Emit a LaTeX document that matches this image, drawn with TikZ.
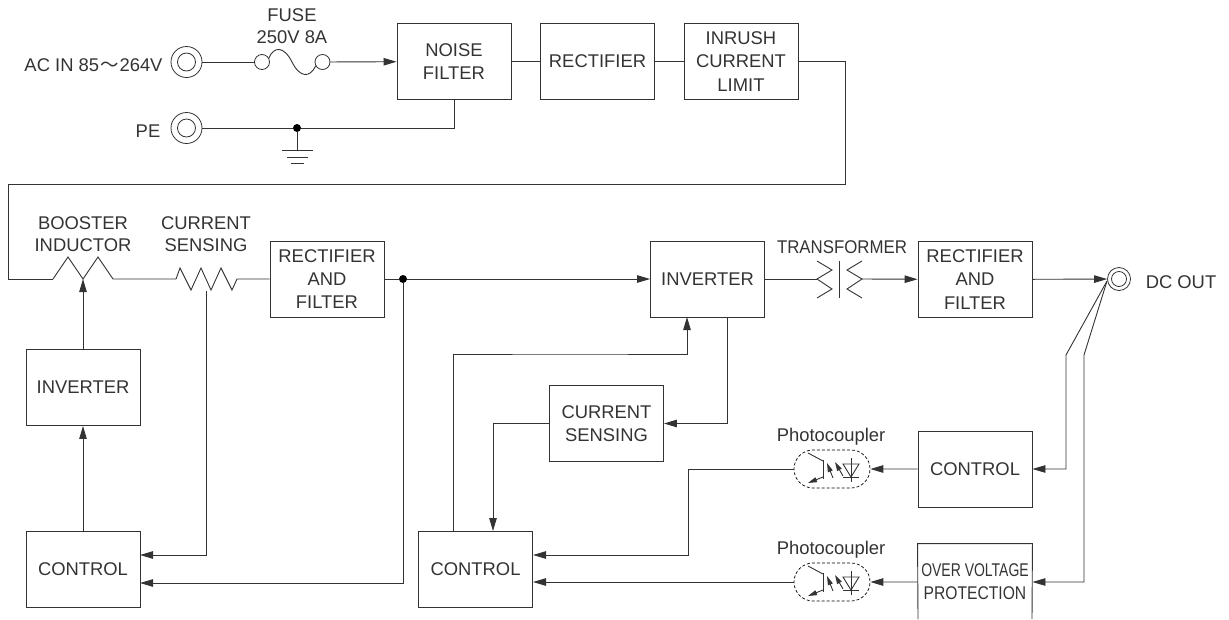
\documentclass[tikz,border=0pt]{standalone}
\usepackage{fontspec}
\setmainfont{Liberation Sans}
\newfontfamily\cjk{Noto Sans CJK SC}
\usetikzlibrary{arrows.meta,shapes.misc}

\definecolor{wire}{gray}{0.2}
\definecolor{ink}{gray}{0.08}
\tikzset{
  block/.style={draw=wire,line width=.9pt,minimum width=114pt,minimum height=76pt,inner sep=0pt,align=center},
  caption/.style={inner sep=0pt,align=center,font=\fontsize{18.4}{21.7}\selectfont},
  jack/.style={circle,draw=wire,line width=.8pt,inner sep=0pt},
  dot/.style={circle,fill=black,inner sep=0pt,minimum size=8pt},
  coupler/.style={rounded rectangle,draw=black,densely dashed,line width=.7pt,minimum width=76pt,minimum height=38pt,inner sep=0pt},
  photo/.pic={
    \draw (-24,-16) -- (-9,-8);
    \draw (-9,-9) -- (-9,10);
    \draw[tiny] (-9,8) -- (-24,14);
    \draw[tiny] (1,9) -- (-5,-6);
    \draw[tiny] (11,7) -- (3,-7);
    \draw (11,-5) -- (27,-5) -- (19,8) -- cycle;
    \draw (11,8) -- (27,8);
    \draw (19,-11) -- (19,13);
  },
  tiny/.style={-{Triangle[length=9pt,width=5pt]}}
}

\begin{document}
\begin{tikzpicture}[x=1pt,y=-1pt,>={Triangle[length=13pt,width=7.5pt]},font=\fontsize{18.4}{23.2}\selectfont,text=ink,color=wire,line width=.9pt,node distance=143.5pt]
\useasboundingbox (0,0) rectangle (1229,619);

% top row
\node[block] (filter) at (454,61.5) {NOISE\\FILTER};
\node[block] (rect) [right of=filter] {RECTIFIER};
\node[block] (inrush) [right of=rect] {INRUSH\\CURRENT\\LIMIT};
\node[jack,minimum size=31pt] (acin) at (186.5,62) {};
\node[jack,minimum size=18pt] (acinner) at (186.5,62) {};
\node[jack,minimum size=31pt] (pe) at (186.5,128) {};
\node[jack,minimum size=18pt] (peinner) at (186.5,128) {};
\node[caption] (aclabel) at (93.5,65) {AC IN 85\kern1pt{\cjk ～}\kern1pt 264V};
\node[caption] (pelabel) at (148,131) {PE};
\node[caption] (fuselabel) at (292,26) {FUSE\\250V 8A};
\node[jack,minimum size=15pt] (fusea) at (262,62) {};
\node[jack,minimum size=15pt] (fuseb) at (322.5,62) {};
\node[dot] (earth) at (297,128) {};
\coordinate (gnd) at (297,150);

\draw (acin) -- (fusea);
\draw[->] (fuseb) -- (filter);
\draw (fusea.30) .. controls (274,46) and (284,46) .. (292,62) .. controls (300,78) and (310,78) .. (fuseb.210);
\draw (pe) -- (earth);
\draw (earth) -| (filter.south);
\draw (earth) -- (gnd);
\draw (282,150) -- (313,150);
\draw (287,157) -- (308,157);
\draw (291,163) -- (304,163);
\draw (filter) -- (rect);
\draw (rect) -- (inrush);

% second row
\node[block] (rfa) at (327,279) {RECTIFIER\\AND\\FILTER};
\node[block] (invb) at (707.5,279) {INVERTER};
\node[block] (rfb) at (975,279.5) {RECTIFIER\\AND\\FILTER};
\node[caption] (boostlabel) at (83,234) {BOOSTER\\INDUCTOR};
\node[caption] (senselabel) at (206,234) {CURRENT\\SENSING};
\node[caption] (tranlabel) at (842,247) {\scalebox{.915}[1]{TRANSFORMER}};
\node[caption] (outlabel) at (1181,282) {DC OUT};
\node[dot] (tee) at (403,279) {};
\node[jack,minimum size=23pt] (out) at (1119,279) {};
\node[jack,minimum size=15pt] (outinner) at (1119,279) {};
\coordinate (boost) at (53,279);
\coordinate (tap) at (83,279);
\coordinate (boostend) at (113,279);
\coordinate (shunt) at (176,279);
\coordinate (shuntend) at (237,279);
\coordinate (shunttap) at (206,291);
\coordinate (corner) at (845,184);
\coordinate (back) at (8,184);

\draw (inrush) -| (corner) -- (back) |- (boost);
\draw (boost) -- ++(15,-22) -- (tap) -- ++(15,-22) -- (boostend) -- (shunt);
\draw (shunt) -- ++(4,-11) -- ++(11,22) -- ++(10,-22) -- ++(10,22) -- ++(10,-22) -- ++(11,22) -- (shuntend) -- (rfa);
\draw (rfa) -- (tee);
\draw[->] (tee) -- (invb);

% transformer
\coordinate (tra) at (817,279);
\coordinate (trb) at (862,279);
\draw (invb) -- (tra);
\draw (817,261) -- (832,270) -- (tra) -- (832,289) -- (817,298);
\draw (839,261) -- (839,298);
\draw (862,261) -- (847,270) -- (trb) -- (847,289) -- (862,298);
\draw[->] (trb) -- (rfb);
\draw[->] (rfb) -- (out);

% left column
\node[block] (inva) at (83,387.5) {INVERTER};
\node[block] (ctla) at (83,569) {CONTROL};
\coordinate (ctlaup) at (140,555);
\coordinate (ctlalow) at (140,583);
\draw[->] (inva) -- (tap);
\draw[->] (ctla) -- (inva);
\draw[->] (shunttap) |- (ctlaup);
\draw[->] (tee) |- (ctlalow);

% middle
\node[block] (ctlb) at (475.5,569) {CONTROL};
\node[block] (sense) at (606.5,423.5) {CURRENT\\SENSING};
\coordinate (ctlbup) at (533,555);
\coordinate (ctlblow) at (533,582);
\coordinate (ctlbout) at (453,531);
\coordinate (ctlbin) at (493,531);
\coordinate (invbin) at (687,317);
\coordinate (invbout) at (727,317);
\coordinate (hop) at (570,354);
\draw[->] (ctlbout) |- (hop) -| (invbin);
\draw[->] (invbout) |- (sense);
\draw[->] (sense) -| (ctlbin);

% right column
\node[block] (ctlc) at (975,469) {CONTROL};
\node[block,draw=none] (ovp) at (975,582) {\scalebox{.76}[1]{OVER VOLTAGE}\\\scalebox{.85}[1]{PROTECTION}};
\coordinate (ovpleft) at (918,619);
\coordinate (ovpright) at (1032,619);
\draw (ovpleft) -- (ovp.north west) -- (ovp.north east) -- (ovpright);
\node[coupler] (pca) at (832,469) {};
\node[coupler] (pcb) at (832,582) {};
\pic at (pca) {photo};
\pic at (pcb) {photo};
\node[caption] (pcalabel) at (831,437) {Photocoupler};
\node[caption] (pcblabel) at (831,550) {Photocoupler};
\coordinate (stub) at (1107,281);
\coordinate (bend) at (1066,355);
\coordinate (bendb) at (1084,355);
\draw[->] (stub) -- (bend) |- (ctlc);
\draw[->] (stub) -- (bendb) |- (ovp);
\draw[->] (ctlc) -- (pca);
\draw[->] (ovp) -- (pcb);
\coordinate (turn) at (688,469);
\draw (pca) -- (turn);
\draw[->] (turn) |- (ctlbup);
\draw[->] (pcb) -- (ctlblow);
\end{tikzpicture}
\end{document}
